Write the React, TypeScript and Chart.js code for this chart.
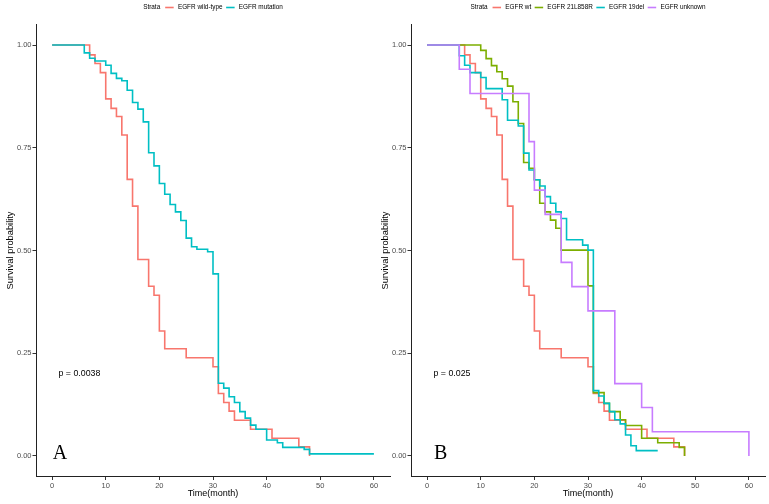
import React, { useEffect, useRef } from "react";
import { Chart, registerables } from "chart.js";

Chart.register(...registerables);

// ---- tick labels ----
const xTicks = [0, 10, 20, 30, 40, 50, 60];
const yTicks = [0, 0.25, 0.5, 0.75, 1];

// ---- Panel A series ----
const wtTimes = [0, 7, 8, 9, 10, 11, 12, 13, 14, 15, 16, 18, 19, 20, 21, 25, 30, 31, 32, 33, 34, 37, 41, 46, 48];
const wtSurv = [1, 0.976, 0.955, 0.933, 0.869, 0.846, 0.826, 0.781, 0.673, 0.608, 0.478, 0.413, 0.391, 0.304, 0.261, 0.239, 0.217, 0.152, 0.13, 0.109, 0.087, 0.065, 0.043, 0.022, 0];

const mutTimes = [0, 6, 7, 8, 10, 11, 12, 13, 14, 15, 16, 17, 18, 19, 20, 21, 22, 23, 24, 25, 26, 27, 29, 30, 31, 32, 33, 34, 35, 36, 37, 38, 40, 42, 43, 47, 48, 60];
const mutSurv = [1, 0.981, 0.968, 0.961, 0.951, 0.931, 0.919, 0.913, 0.89, 0.86, 0.844, 0.813, 0.738, 0.706, 0.663, 0.637, 0.612, 0.594, 0.573, 0.53, 0.509, 0.503, 0.497, 0.443, 0.177, 0.165, 0.144, 0.13, 0.108, 0.092, 0.075, 0.065, 0.039, 0.032, 0.021, 0.016, 0.005, 0.005];

// ---- Panel B series ----
const l858rTimes = [0, 10, 11, 12, 13, 14, 15, 16, 17, 18, 19, 20, 21, 22, 23, 24, 25, 30, 31, 33, 34, 36, 37, 40, 43, 47, 48];
const l858rSurv = [1, 0.987, 0.967, 0.95, 0.935, 0.918, 0.9, 0.862, 0.809, 0.714, 0.7, 0.672, 0.615, 0.594, 0.574, 0.554, 0.501, 0.414, 0.154, 0.128, 0.108, 0.088, 0.074, 0.043, 0.032, 0.021, 0];

const del19Times = [0, 6, 7, 8, 10, 11, 14, 15, 17, 18, 19, 20, 21, 22, 23, 24, 25, 26, 29, 30, 31, 32, 33, 34, 35, 36, 37, 38, 39, 43];
const del19Surv = [1, 0.974, 0.951, 0.933, 0.921, 0.894, 0.867, 0.817, 0.803, 0.737, 0.696, 0.672, 0.657, 0.631, 0.615, 0.594, 0.578, 0.526, 0.513, 0.501, 0.159, 0.146, 0.128, 0.108, 0.088, 0.078, 0.051, 0.025, 0.013, 0.013];

const unknownTimes = [0, 6, 8, 19, 20, 22, 25, 27, 30, 35, 40, 42, 60];
const unknownSurv = [1, 0.941, 0.882, 0.765, 0.647, 0.588, 0.471, 0.412, 0.353, 0.176, 0.118, 0.059, 0];

// ---- labels / colours ----
const panelALabels = ["EGFR wild-type", "EGFR mutation"];
const panelAColors = ["#F8766D", "#00BFC4"];
const panelBLabels = ["EGFR wt", "EGFR 21L858R", "EGFR 19del", "EGFR unknown"];
const panelBColors = ["#F8766D", "#7CAE00", "#00BFC4", "#C77CFF"];
const pValueA = "p = 0.0038";
const pValueB = "p = 0.025";

const SANS = '"Liberation Sans", Arial, Helvetica, sans-serif';
const SERIF = '"Liberation Serif", "Times New Roman", serif';

type Series = { label: string; color: string; times: number[]; surv: number[] };

function makePanelPlugin(labels: string[], colors: string[], pText: string, letter: string, letterX: number) {
  return {
    id: "panelDecor",
    afterDraw(chart: any) {
      const ctx = chart.ctx as CanvasRenderingContext2D;
      const { left, right } = chart.chartArea;
      const xs = chart.scales.x;
      const ys = chart.scales.y;
      ctx.save();
      // legend
      ctx.font = `6.4px ${SANS}`;
      ctx.textBaseline = "middle";
      ctx.textAlign = "left";
      const swatch = 8.5, gapTitle = 5, gapText = 4.2, gapItem = 3.5;
      let total = ctx.measureText("Strata").width + gapTitle;
      labels.forEach((l, i) => {
        total += swatch + gapText + ctx.measureText(l).width + (i < labels.length - 1 ? gapItem : 0);
      });
      let x = (left + right) / 2 - total / 2;
      const y = 7.5;
      ctx.fillStyle = "#000";
      ctx.fillText("Strata", x, y);
      x += ctx.measureText("Strata").width + gapTitle;
      labels.forEach((l, i) => {
        ctx.strokeStyle = colors[i];
        ctx.lineWidth = 1.6;
        ctx.beginPath();
        ctx.moveTo(x, y);
        ctx.lineTo(x + swatch, y);
        ctx.stroke();
        x += swatch + gapText;
        ctx.fillStyle = "#000";
        ctx.fillText(l, x, y);
        x += ctx.measureText(l).width + gapItem;
      });
      // p value
      ctx.font = `8.8px ${SANS}`;
      ctx.fillStyle = "#000";
      ctx.textAlign = "left";
      ctx.textBaseline = "middle";
      ctx.fillText(pText, xs.getPixelForValue(1.2), ys.getPixelForValue(0.2));
      // panel letter
      ctx.font = `20px ${SERIF}`;
      ctx.textAlign = "center";
      ctx.textBaseline = "alphabetic";
      ctx.fillText(letter, xs.getPixelForValue(letterX), ys.getPixelForValue(-0.008));
      ctx.restore();
    },
  };
}

function SurvPanel(props: { series: Series[]; pText: string; letter: string; letterX: number; left: number }) {
  const ref = useRef<HTMLCanvasElement | null>(null);
  useEffect(() => {
    if (!ref.current) return;
    const { series } = props;
    const n = series.length;
    const chart = new Chart(ref.current, {
      type: "line",
      data: {
        datasets: series.map((s, i) => ({
          label: s.label,
          data: s.times.map((t, j) => ({ x: t, y: s.surv[j] })),
          borderColor: s.color,
          backgroundColor: s.color,
          borderWidth: 1.6,
          pointRadius: 0,
          stepped: true,
          fill: false,
          order: n - i,
        })),
      },
      options: {
        animation: false,
        responsive: false,
        layout: { padding: { top: 24.5, right: 4, left: 0, bottom: 0 } },
        plugins: { legend: { display: false }, tooltip: { enabled: false } },
        scales: {
          x: {
            type: "linear",
            min: -3,
            max: 63,
            afterBuildTicks: (s: any) => {
              s.ticks = xTicks.map((v) => ({ value: v }));
            },
            afterFit: (s: any) => {
              s.height = 27.5;
            },
            grid: { drawOnChartArea: false, drawTicks: true, tickLength: 3.5, color: "#333" },
            border: { color: "#222", width: 1 },
            ticks: { font: { size: 7.5, family: SANS }, color: "#4d4d4d", padding: 1, maxRotation: 0, autoSkip: false },
            title: { display: true, text: "Time(month)", font: { size: 9, family: SANS }, color: "#000", padding: { top: 0, bottom: 5 } },
          },
          y: {
            type: "linear",
            min: -0.05,
            max: 1.05,
            afterBuildTicks: (s: any) => {
              s.ticks = yTicks.map((v) => ({ value: v }));
            },
            afterFit: (s: any) => {
              s.width = 36;
            },
            grid: { drawOnChartArea: false, drawTicks: true, tickLength: 3.5, color: "#333" },
            border: { color: "#222", width: 1 },
            ticks: {
              font: { size: 7.5, family: SANS },
              color: "#4d4d4d",
              padding: 1,
              autoSkip: false,
              callback: (v: any) => Number(v).toFixed(2),
            },
            title: { display: true, text: "Survival probability", font: { size: 9.3, family: SANS }, color: "#000", padding: { top: 4.4, bottom: 0 } },
          },
        },
      },
      plugins: [makePanelPlugin(series.map((s) => s.label), series.map((s) => s.color), props.pText, props.letter, props.letterX)],
    } as any);
    return () => chart.destroy();
  }, []);
  return (
    <canvas
      ref={ref}
      width={394}
      height={504}
      style={{ position: "absolute", left: props.left, top: 0, width: 394, height: 504 }}
    />
  );
}

export default function App() {
  const seriesA: Series[] = [
    { label: panelALabels[0], color: panelAColors[0], times: wtTimes, surv: wtSurv },
    { label: panelALabels[1], color: panelAColors[1], times: mutTimes, surv: mutSurv },
  ];
  const seriesB: Series[] = [
    { label: panelBLabels[0], color: panelBColors[0], times: wtTimes, surv: wtSurv },
    { label: panelBLabels[1], color: panelBColors[1], times: l858rTimes, surv: l858rSurv },
    { label: panelBLabels[2], color: panelBColors[2], times: del19Times, surv: del19Surv },
    { label: panelBLabels[3], color: panelBColors[3], times: unknownTimes, surv: unknownSurv },
  ];
  return (
    <div style={{ position: "absolute", left: 0, top: 0, width: 769, height: 504, background: "#fff", overflow: "hidden" }}>
      <SurvPanel series={seriesA} pText={pValueA} letter="A" letterX={1.45} left={0} />
      <SurvPanel series={seriesB} pText={pValueB} letter="B" letterX={2.55} left={375} />
    </div>
  );
}
